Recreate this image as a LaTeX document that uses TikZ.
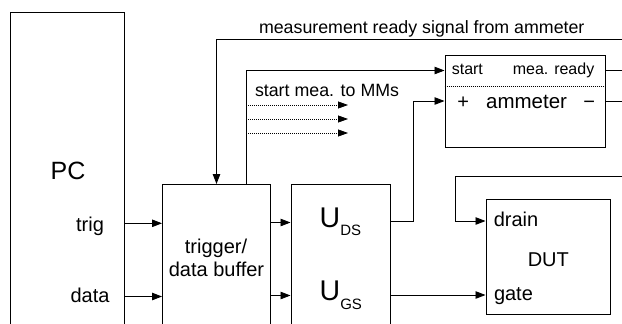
\documentclass[tikz,border=0pt]{standalone}
\usepackage{fontspec}
\setmainfont{Liberation Sans}
\usetikzlibrary{arrows.meta}
\begin{document}
\begin{tikzpicture}[x=1pt,y=-1pt,
  box/.style={draw, line width=0.9pt, inner sep=0pt, anchor=north west},
  conn/.style={draw, line width=0.9pt},
  arr/.style={conn, -{Triangle[length=10pt,width=7.5pt]}},
  dotarr/.style={draw, line width=0.8pt, dash pattern=on 1pt off 1pt, -{Triangle[length=10pt,width=7pt]}},
  dotline/.style={draw, line width=0.8pt, dash pattern=on 1pt off 1pt},
  lbl/.style={inner sep=0pt, anchor=base},
  fbig/.style={font=\fontsize{25}{27}\selectfont},
  fmid/.style={font=\fontsize{20}{22}\selectfont},
  ftop/.style={font=\fontsize{17.8}{20}\selectfont},
  fsmall/.style={font=\fontsize{16}{18}\selectfont}
]
\useasboundingbox (0,0) rectangle (622,324);
\clip (0,0) rectangle (622,324);

% boxes
\node[box, minimum width=114, minimum height=340] (pc) at (10,11.5) {};
\node[box, minimum width=108, minimum height=200] (tb) at (162,184) {};
\node[box, minimum width=99.5, minimum height=200] (u) at (290.5,184) {};
\node[box, minimum width=160, minimum height=92] (am) at (444.5,54.5) {};
\node[box, minimum width=124.5, minimum height=115.5] (dut) at (485.5,198.5) {};

% helper levels
\coordinate (ymeas) at (0,39);
\coordinate (ystart) at (0,70.5);
\coordinate (ysep) at (0,86);
\coordinate (yplus) at (0,101);
\coordinate (ydot1) at (0,105);
\coordinate (ydot2) at (0,119);
\coordinate (ydot3) at (0,133);
\coordinate (yloop) at (0,176);
\coordinate (yuds) at (0,221.5);
\coordinate (ydrain) at (0,221);
\coordinate (ytb1) at (0,222.5);
\coordinate (ytrig) at (0,223.3);
\coordinate (ygate) at (0,295);
\coordinate (ytb2) at (0,295.5);
\coordinate (ydata) at (0,296.5);
\coordinate (xmeas) at (216.5,0);
\coordinate (xstart) at (246,0);
\coordinate (xdot) at (348,0);
\coordinate (xuds) at (413.5,0);
\coordinate (xloop) at (455,0);
\coordinate (xr) at (623,0);

% ammeter separator
\path[dotline] (am.west |- ysep) -- (am.east |- ysep);

% connectors
\draw[arr] (xr |- ymeas) -| (tb.north -| xmeas);
\draw[arr] (tb.north -| xstart) |- (am.west |- ystart);
\draw[dotarr] (xstart |- ydot1) -- (xdot |- ydot1);
\draw[dotarr] (xstart |- ydot2) -- (xdot |- ydot2);
\draw[dotarr] (xstart |- ydot3) -- (xdot |- ydot3);
\draw[arr] (u.east |- yuds) -| (xuds |- yplus) -- (am.west |- yplus);
\draw[conn] (am.east |- ystart) -- (xr |- ystart);
\draw[conn] (am.east |- yplus) -- (xr |- yplus);
\draw[arr] (xr |- yloop) -| (xloop |- ydrain) -- (dut.west |- ydrain);
\draw[arr] (u.east |- ygate) -- (dut.west |- ygate);
\draw[arr] (pc.east |- ytrig) -- (tb.west |- ytrig);
\draw[arr] (pc.east |- ydata) -- (tb.west |- ydata);
\draw[arr] (tb.east |- ytb1) -- (u.west |- ytb1);
\draw[arr] (tb.east |- ytb2) -- (u.west |- ytb2);

% labels
\node[lbl, ftop, anchor=base west] (meastxt) at (258.8,33.3) {measurement ready signal from ammeter};
\node[lbl, ftop, anchor=base west] (starttxt) at (254.8,96) {start mea. to MMs};
\node[lbl, fbig] (pctxt) at (68,179.3) {PC};
\node[lbl, fmid] (trigtxt) at (90,231.5) {trig};
\node[lbl, fmid] (datatxt) at (90,302.5) {data};
\node[lbl, fmid] (tbtxt1) at (216,253.3) {trigger/};
\node[lbl, fmid] (tbtxt2) at (216.5,276.7) {data buffer};
\node[lbl, anchor=base west] (udstxt) at (319.5,227.3) {\fontsize{28.5}{30}\selectfont U\raisebox{-7.7pt}{\fontsize{15}{16}\selectfont DS}};
\node[lbl, anchor=base west] (ugstxt) at (319.5,300) {\fontsize{28.5}{30}\selectfont U\raisebox{-9.3pt}{\fontsize{15}{16}\selectfont GS}};
\node[lbl, fmid] (duttxt) at (548.3,266) {DUT};
\node[lbl, fmid, anchor=base west] (draintxt) at (493.6,226.7) {drain};
\node[lbl, fmid, anchor=base west] (gatetxt) at (493.8,300) {gate};
\node[lbl, fsmall, anchor=base west] (amstart) at (451.6,74.3) {start};
\node[lbl, fsmall, anchor=base east] (amready) at (594.5,74.3) {mea. ready};
\node[lbl, fmid] (amplus) at (463.3,108.3) {+};
\node[lbl, anchor=base west, font=\fontsize{20.5}{22}\selectfont] (amtxt) at (485.9,108.3) {ammeter};
\node[lbl, fmid] (amminus) at (589.3,108.3) {−};
\end{tikzpicture}
\end{document}
